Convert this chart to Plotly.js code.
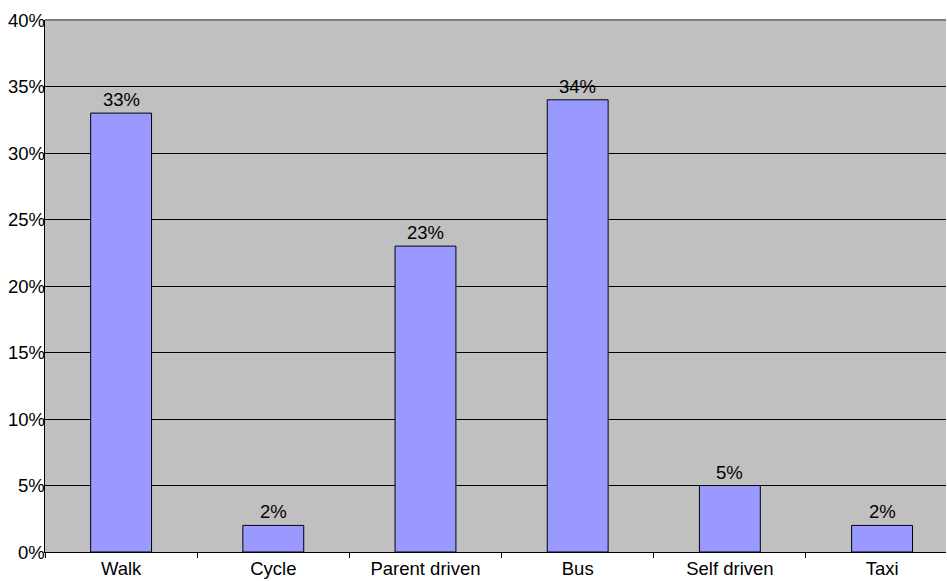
<!DOCTYPE html>
<html>
<head>
<meta charset="utf-8">
<script src="https://cdn.plot.ly/plotly-3.0.1.min.js"></script>
<style>
  html, body { margin: 0; padding: 0; background: #ffffff; }
  #chart { width: 947px; height: 581px; }
</style>
</head>
<body>
<div id="chart"></div>
<script>
// Share of journeys by travel mode
const categories = ["Walk", "Cycle", "Parent driven", "Bus", "Self driven", "Taxi"];
const shares = [33, 2, 23, 34, 5, 2];
const yTickValues = [0, 5, 10, 15, 20, 25, 30, 35, 40];
const yTickLabels = ["0%", "5%", "10%", "15%", "20%", "25%", "30%", "35%", "40%"];

const font = { family: "Liberation Sans, Arial, sans-serif", size: 18.5, color: "#000000" };

const trace = {
  type: "bar",
  x: categories,
  y: shares,
  marker: { color: "#9999ff", line: { color: "#000000", width: 1 } },
  hoverinfo: "skip"
};

// value labels sitting above each bar
const valueLabels = categories.map((c, i) => ({
  x: c,
  y: shares[i],
  xref: "x",
  yref: "y",
  text: shares[i] + "%",
  showarrow: false,
  yanchor: "bottom",
  yshift: 1,
  font: font
}));

// percentage labels set flush against the left axis line
const yLabels = yTickValues.map((v, i) => ({
  x: 0,
  y: v,
  xref: "paper",
  yref: "y",
  text: yTickLabels[i],
  showarrow: false,
  xanchor: "right",
  yanchor: "middle",
  xshift: 2,
  font: font
}));

const layout = {
  width: 947,
  height: 581,
  margin: { l: 45, r: 1, t: 20, b: 29, pad: 0 },
  paper_bgcolor: "#ffffff",
  plot_bgcolor: "#c0c0c0",
  font: font,
  bargap: 0.6,
  showlegend: false,
  annotations: valueLabels.concat(yLabels),
  xaxis: {
    range: [-0.5, 5.42],
    tickson: "boundaries",
    ticks: "outside",
    ticklen: 5,
    tickcolor: "#000000",
    showgrid: false,
    showline: true,
    linecolor: "#000000",
    linewidth: 1,
    tickfont: font,
    fixedrange: true
  },
  yaxis: {
    range: [0, 40],
    tickvals: yTickValues,
    showticklabels: false,
    ticks: "",
    showgrid: true,
    gridcolor: "#000000",
    gridwidth: 1,
    showline: true,
    linecolor: "#000000",
    linewidth: 1,
    zeroline: false,
    fixedrange: true
  },
  shapes: [
    { type: "line", xref: "paper", yref: "paper", x0: 0, x1: 1, y0: 1, y1: 1,
      line: { color: "#808080", width: 2 } }
  ]
};

Plotly.newPlot("chart", [trace], layout, { displayModeBar: false, staticPlot: true });
</script>
</body>
</html>
